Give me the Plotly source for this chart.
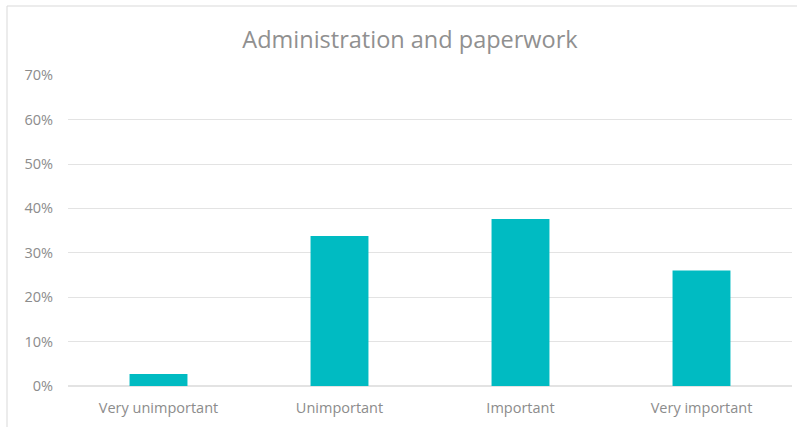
import plotly.graph_objects as go

# Data
categories = ["Very unimportant", "Unimportant", "Important", "Very important"]
shares = [0.027, 0.338, 0.376, 0.260]
y_ticks = [0, 0.1, 0.2, 0.3, 0.4, 0.5, 0.6, 0.7]

W, H = 797, 427
L, R, T, B = 68, 5, 75, 41
pw = W - L - R
ph = H - T - B

fig = go.Figure(
    go.Bar(
        x=categories,
        y=shares,
        marker=dict(color="#00BBC2", line=dict(width=0)),
        hoverinfo="x+y",
    )
)

# outer chart border (top and left edges visible)
bx0 = (7 - L) / pw
by_top = (H - 6 - B) / ph
fig.add_shape(type="line", xref="paper", yref="paper",
              x0=bx0, x1=(W - L + 5) / pw, y0=by_top, y1=by_top,
              line=dict(color="#D9D9D9", width=1))
fig.add_shape(type="line", xref="paper", yref="paper",
              x0=bx0, x1=bx0, y0=-B / ph - 0.05, y1=by_top,
              line=dict(color="#D9D9D9", width=1))

fig.update_layout(
    width=W,
    height=H,
    margin=dict(l=L, r=R, t=T, b=B, autoexpand=False),
    paper_bgcolor="white",
    plot_bgcolor="white",
    bargap=0.68,
    showlegend=False,
    font=dict(family="Open Sans, sans-serif", color="#8C8C8C", size=14),
    title=dict(
        text="Administration and paperwork",
        x=(410 - L) / pw,
        xref="paper",
        xanchor="center",
        y=1 - 40 / H,
        yanchor="middle",
        font=dict(size=23.5, color="#909090"),
    ),
    xaxis=dict(
        showgrid=False,
        showline=False,
        ticks="",
        ticklabelstandoff=11,
        tickfont=dict(size=14.5, color="#8C8C8C"),
    ),
    yaxis=dict(
        range=[0, 0.7005],
        tickvals=y_ticks,
        tickformat=".0%",
        showgrid=True,
        gridcolor="#E3E3E3",
        gridwidth=1,
        zeroline=True,
        zerolinecolor="#E3E3E3",
        showline=False,
        ticks="",
        ticklabelstandoff=14,
        tickfont=dict(size=14.5, color="#8C8C8C"),
    ),
)

# drop the browser's default body margin so the figure sits at the page origin
fig.write_html(
    "out.html",
    config={"displayModeBar": False},
    post_script="document.body.style.margin='0';",
)
